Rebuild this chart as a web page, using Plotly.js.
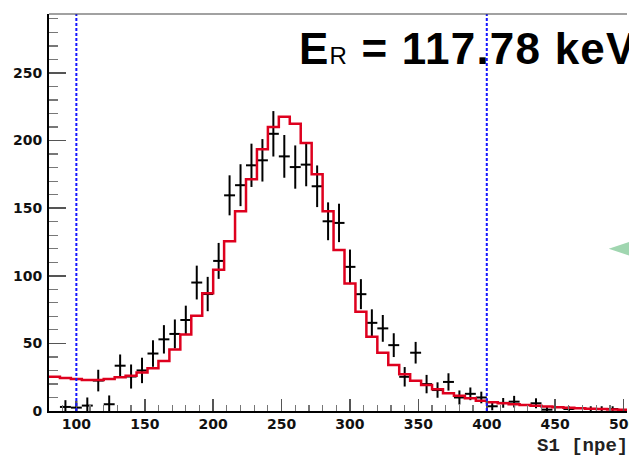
<!DOCTYPE html>
<html>
<head>
<meta charset="utf-8">
<script src="https://cdn.plot.ly/plotly-3.0.1.min.js"></script>
<style>html,body{margin:0;padding:0;background:#fff;overflow:hidden}</style>
</head>
<body>
<div id="chart" style="width:629px;height:456px"></div>
<script>
// ---- data ----
const binWidth = 8;
const dataCenters = [92,100,108,116,124,132,140,148,156,164,172,180,188,196,204,212,220,228,236,244,252,260,268,276,284,292,300,308,316,324,332,340,348,356,364,372,380,388,396,404,412,420,436,444,460,476,484,492];
const dataCounts  = [3,2.5,4,22.5,5,33.5,25.5,30,42.5,53,57,67.3,95,86.5,111,159.5,167,181.7,185.4,205,188.3,180.4,182.2,166.2,140.3,139.1,106.6,86.4,65.2,61.1,48.7,25.3,43.1,19.9,15.5,21.5,10,12.7,10,3.5,6,6.9,5.7,1,1.5,1.5,1.5,1.5];
const dataErrors  = [5,5,6,8,6.5,8.3,8.9,9.4,9.8,10.5,10.7,10.6,12.5,12.7,13.3,14.8,15.5,16,15.7,16.8,15.8,16,16,15.4,14,14.2,12.8,11.1,10,9.9,8.8,7.2,8,6.8,5.7,6.4,5.2,4.7,4.3,3,3.6,4.3,3.7,2,2,2,2,2];

const fitCenters = [84,92,100,108,116,124,132,140,148,156,164,172,180,188,196,204,212,220,228,236,244,252,260,268,276,284,292,300,308,316,324,332,340,348,356,364,372,380,388,396,404,412,420,428,436,444,452,460,468,476,484,492,500];
const fitCounts  = [25.3,24.4,23.6,22.9,22.9,23.6,24.9,26.1,28.4,31.6,36.9,45.5,56.5,70.5,87,104.5,125.6,147.7,171.3,193.5,210,217.6,212.5,198.2,175,147.7,119.1,94.3,73.4,54.9,43.1,34,27.1,22.4,19.2,16,13.1,11.3,9.4,7.6,6.5,5.8,5.0,4.4,3.8,3.3,2.8,2.4,2.0,1.7,1.4,1.1,0.9];

const cutLines = [100, 400];
const xTickVals = [100,150,200,250,300,350,400,450,500];
const yTickVals = [0,50,100,150,200,250];
const xRange = [80, 502.5];
const yRange = [0, 293.6];
const titleText = '<span style="letter-spacing:1.2px">E<span style="font-size:24px;font-weight:normal">R</span> = 117.78 keV</span>';
const xTitleText = 'S1 [npe]';

// ---- build step line from bin centers ----
const fitX = fitCenters.map(c => c - binWidth/2);
const fitY = fitCounts.slice();
fitX.push(fitCenters[fitCenters.length-1] + binWidth/2);
fitY.push(fitCounts[fitCounts.length-1]);

const traces = [
  {
    type: 'scatter', mode: 'markers',
    x: dataCenters, y: dataCounts,
    marker: {size: 2, color: 'black'},
    error_y: {type: 'data', array: dataErrors, visible: true, color: 'black', thickness: 2, width: 0},
    error_x: {type: 'constant', value: binWidth/2, visible: true, color: 'black', thickness: 2, width: 0},
    hoverinfo: 'skip', showlegend: false
  },
  {
    type: 'scatter', mode: 'lines',
    x: fitX, y: fitY,
    line: {shape: 'hv', color: 'rgb(222,0,30)', width: 2.5},
    hoverinfo: 'skip', showlegend: false
  }
];

const shapes = cutLines.map(v => ({
  type: 'line', xref: 'x', yref: 'paper', x0: v, x1: v, y0: 0, y1: 1,
  line: {color: 'rgb(20,20,255)', width: 2, dash: '3px,2px'}
}));
shapes.push({type:'line', xref:'paper', yref:'paper', x0:0, x1:1, y0:1, y1:1, line:{color:'#444', width:1.2}});
shapes.push({type:'path', xref:'paper', yref:'paper',
  path: 'M 0.9684 0.4088 L 1.01 0.4290 L 1.01 0.3887 Z',
  fillcolor: 'rgb(160,214,176)', line: {width: 0}});

const tickFont = {family: 'DejaVu Sans', size: 14, color: '#111', weight: 'bold'};

const layout = {
  width: 629, height: 456,
  margin: {l: 49, r: 2, t: 14, b: 45, pad: 0},
  paper_bgcolor: 'white', plot_bgcolor: 'white',
  showlegend: false,
  xaxis: {
    range: xRange, tickmode: 'array', tickvals: xTickVals, ticktext: xTickVals.map(String),
    ticks: 'inside', ticklen: 12, tickwidth: 1.5, tickcolor: '#555',
    minor: {tickmode: 'linear', tick0: 0, dtick: 10, ticks: 'inside', ticklen: 6, tickwidth: 1.2, tickcolor: '#777'},
    showline: true, linecolor: 'black', linewidth: 2, showgrid: false, zeroline: false,
    tickfont: tickFont, ticklabelstandoff: -1, ticklabeloverflow: 'allow'
  },
  yaxis: {
    range: yRange, tickmode: 'array', tickvals: yTickVals, ticktext: yTickVals.map(String),
    ticks: 'inside', ticklen: 17, tickwidth: 1.5, tickcolor: '#555',
    minor: {tickmode: 'linear', tick0: 0, dtick: 10, ticks: 'inside', ticklen: 9, tickwidth: 1.2, tickcolor: '#777'},
    showline: true, linecolor: 'black', linewidth: 2, showgrid: false, zeroline: false,
    tickfont: tickFont, ticklabelstandoff: 2
  },
  shapes: shapes,
  annotations: [
    {xref: 'paper', yref: 'paper', x: 0.429, y: 0.913, xanchor: 'left', yanchor: 'middle',
     text: titleText, showarrow: false,
     font: {family: 'Liberation Sans', size: 44, color: 'black', weight: 'bold'}},
    {xref: 'paper', yref: 'paper', x: (535 - 49) / 578, y: 0, xanchor: 'left', yanchor: 'middle', yshift: -35,
     text: xTitleText, showarrow: false,
     font: {family: 'Liberation Mono', size: 19, color: '#222', weight: 'bold'}}
  ]
};

Plotly.newPlot('chart', traces, layout, {displayModeBar: false, staticPlot: true});
</script>
</body>
</html>
